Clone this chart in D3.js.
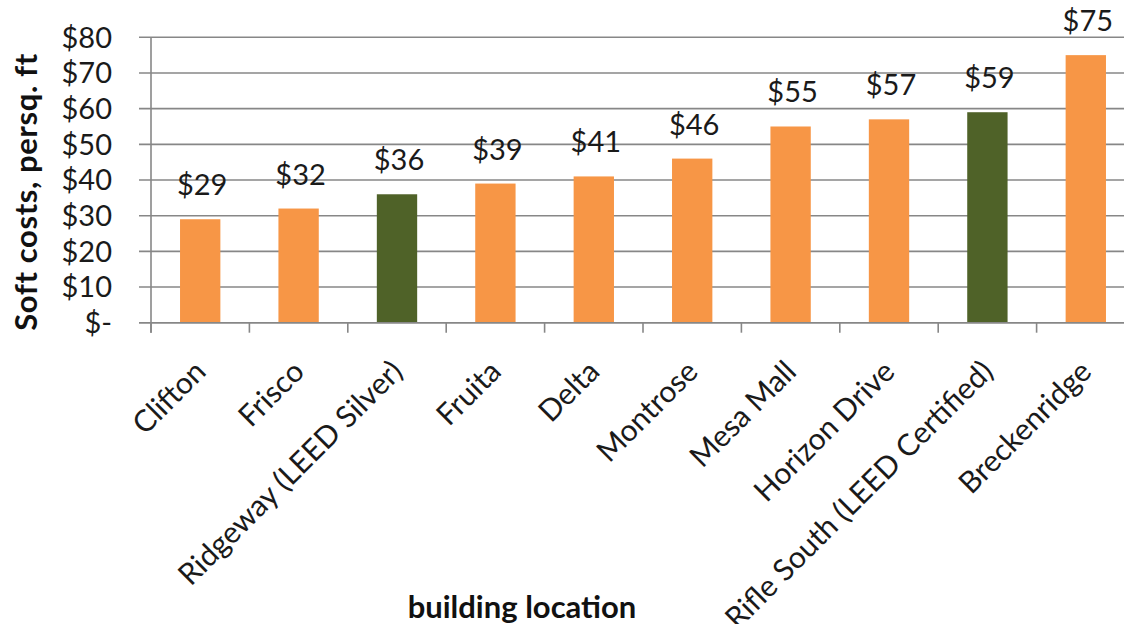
<!DOCTYPE html>
<html>
<head>
<meta charset="utf-8">
<script src="https://cdn.jsdelivr.net/npm/d3@7"></script>
<style>
  html, body { margin: 0; padding: 0; background: #fff; }
  svg { display: block; font-family: Lato, "Open Sans", sans-serif; }
</style>
</head>
<body>
<svg id="chart" width="1124" height="624"></svg>
<script>
// Soft costs per square foot by building location
const locations = ["Clifton", "Frisco", "Ridgeway (LEED Silver)", "Fruita", "Delta",
  "Montrose", "Mesa Mall", "Horizon Drive", "Rifle South (LEED Certified)", "Breckenridge"];
const softCosts = [29, 32, 36, 39, 41, 46, 55, 57, 59, 75];
const leedCertified = [false, false, true, false, false, false, false, false, true, false];
const yTicks = [0, 10, 20, 30, 40, 50, 60, 70, 80];

(function draw() {
  const svg = d3.select("#chart");
  const plotLeft = 151, plotRight = 1135, plotTop = 37.3, plotBottom = 322.7;
  const labelSize = 29;

  const x = d3.scaleBand().domain(locations).range([plotLeft, plotRight])
    .paddingInner(0.59).paddingOuter(0.295);
  const y = d3.scaleLinear().domain([0, 80]).range([plotBottom, plotTop]);

  const gridColor = "#878787";
  const fmt = v => v === 0 ? "$-" : "$" + v;

  // horizontal gridlines
  svg.append("g").selectAll("line").data(yTicks).join("line")
    .attr("x1", plotLeft - 12).attr("x2", plotRight)
    .attr("y1", d => y(d)).attr("y2", d => y(d))
    .attr("stroke", gridColor).attr("stroke-width", 1.6);

  // y axis line
  svg.append("line").attr("x1", plotLeft).attr("x2", plotLeft)
    .attr("y1", plotTop).attr("y2", plotBottom + 10)
    .attr("stroke", gridColor).attr("stroke-width", 1.6);

  // y tick labels
  svg.append("g").selectAll("text").data(yTicks).join("text")
    .attr("x", 112).attr("y", d => y(d)).attr("dy", "0.36em")
    .attr("text-anchor", "end").attr("font-size", labelSize).attr("fill", "#1a1a1a")
    .text(fmt);

  // category boundary ticks on the x axis
  const step = x.step();
  const boundaries = d3.range(locations.length + 1).map(i => plotLeft + i * step);
  svg.append("g").selectAll("line").data(boundaries).join("line")
    .attr("x1", d => d).attr("x2", d => d).attr("y1", plotBottom).attr("y2", plotBottom + 10)
    .attr("stroke", gridColor).attr("stroke-width", 1.6);

  // bars
  svg.append("g").selectAll("rect").data(locations).join("rect")
    .attr("x", d => x(d)).attr("width", x.bandwidth())
    .attr("y", (d, i) => y(softCosts[i]))
    .attr("height", (d, i) => y(0) - y(softCosts[i]))
    .attr("fill", (d, i) => leedCertified[i] ? "#4f6228" : "#f79646");

  // x axis baseline
  svg.append("line").attr("x1", plotLeft - 12).attr("x2", plotRight)
    .attr("y1", plotBottom).attr("y2", plotBottom)
    .attr("stroke", gridColor).attr("stroke-width", 1.6);

  // value labels
  svg.append("g").selectAll("text").data(locations).join("text")
    .attr("x", d => x(d) + x.bandwidth() / 2 + 2)
    .attr("y", (d, i) => y(softCosts[i]) - 24)
    .attr("text-anchor", "middle").attr("font-size", labelSize).attr("fill", "#1a1a1a")
    .text((d, i) => "$" + softCosts[i]);

  // rotated category labels
  svg.append("g").selectAll("text").data(locations).join("text")
    .attr("transform", d => `translate(${x(d) + x.bandwidth() / 2},366) rotate(-45)`)
    .attr("dy", "0.35em")
    .attr("text-anchor", "end").attr("font-size", 30).attr("fill", "#1a1a1a")
    .text(d => d);

  // axis titles
  svg.append("text")
    .attr("transform", `translate(37,192) rotate(-90)`)
    .attr("text-anchor", "middle").attr("font-size", 31).attr("letter-spacing", 0.6)
    .attr("font-weight", "bold").attr("fill", "#111")
    .text("Soft costs, persq. ft");

  svg.append("text")
    .attr("x", 522).attr("y", 618)
    .attr("text-anchor", "middle").attr("font-size", 31).attr("font-weight", "bold").attr("fill", "#111")
    .text("building location");
})();
</script>
</body>
</html>
